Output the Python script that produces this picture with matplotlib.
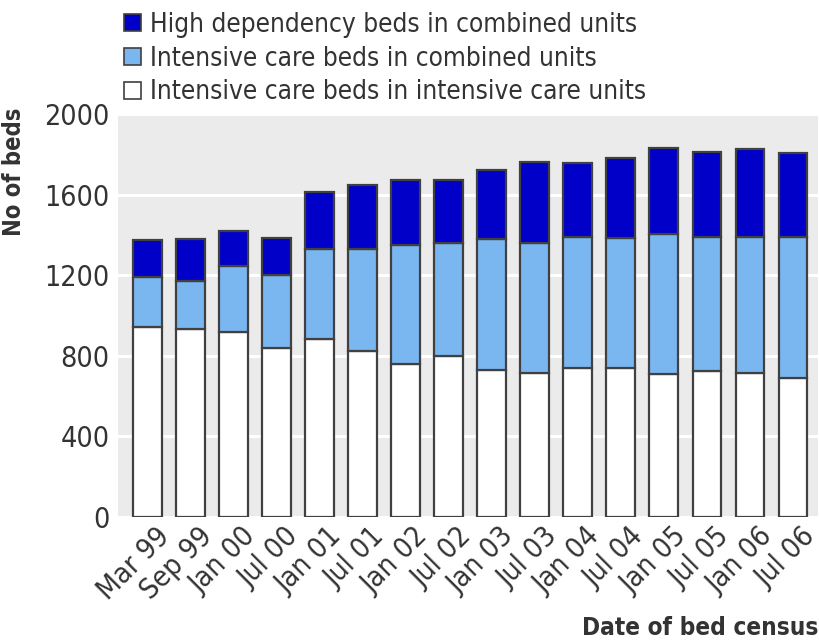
import matplotlib
matplotlib.use("Agg")
import matplotlib.pyplot as plt
import matplotlib.transforms as mtrans
from matplotlib.patches import Patch
import numpy as np

labels = ["Mar 99", "Sep 99", "Jan 00", "Jul 00", "Jan 01", "Jul 01", "Jan 02", "Jul 02",
          "Jan 03", "Jul 03", "Jan 04", "Jul 04", "Jan 05", "Jul 05", "Jan 06", "Jul 06"]
icu_units = [942, 932, 919, 840, 883, 823, 760, 797, 732, 714, 737, 737, 710, 727, 717, 692]
ic_combined = [250, 240, 325, 362, 448, 505, 590, 561, 647, 646, 652, 647, 694, 664, 672, 699]
hd_combined = [183, 207, 174, 182, 280, 321, 324, 316, 343, 402, 366, 396, 429, 421, 436, 416]

plt.rcParams['font.family'] = ['DejaVu Sans']
plt.rcParams['font.stretch'] = 'condensed'
txt = '#333333'

fig = plt.figure(figsize=(8.2, 6.44), dpi=100)
ax = fig.add_axes([118/820, (644-517)/644, 700/820, 403/644])
ax.set_facecolor('#ebebeb')

x = np.arange(len(labels))
w = 0.67
ec = '#404040'
lw = 1.6
ax.bar(x, icu_units, w, color='white', edgecolor=ec, linewidth=lw, zorder=3)
ax.bar(x, ic_combined, w, bottom=icu_units, color='#7ab6f0', edgecolor=ec, linewidth=lw, zorder=3)
bottom2 = np.array(icu_units) + np.array(ic_combined)
ax.bar(x, hd_combined, w, bottom=bottom2, color='#0000c8', edgecolor=ec, linewidth=lw, zorder=3)

ax.set_ylim(0, 2000)
ax.set_xlim(-0.68, 15.58)
ax.set_yticks([0, 400, 800, 1200, 1600, 2000])
ax.yaxis.grid(True, color='white', linewidth=2.2, zorder=0)
ax.set_axisbelow(True)
for s in ax.spines.values():
    s.set_visible(False)
ax.tick_params(axis='y', length=0, colors=txt, labelsize=20.5, pad=6)
ax.tick_params(axis='x', length=0, colors=txt, labelsize=20.5, pad=4)
ax.set_xticks(x)
ax.set_xticklabels(labels, rotation=45, ha='right', va='top', rotation_mode='anchor')
off = mtrans.ScaledTranslation(8/100, 0, fig.dpi_scale_trans)
for t in ax.get_xticklabels():
    t.set_color(txt)
    t.set_transform(t.get_transform() + off)

fig.text(14/820, 1 - 172/644, 'No of beds', rotation=90, ha='center', va='center',
         fontsize=17, fontweight='heavy', color=txt)
fig.text(818/820, 1 - 628/644, 'Date of bed census', ha='right', va='center',
         fontsize=17.5, fontweight='heavy', color=txt)

handles = [Patch(facecolor='#0000c8', edgecolor=ec, linewidth=1.2),
           Patch(facecolor='#7ab6f0', edgecolor=ec, linewidth=1.2),
           Patch(facecolor='white', edgecolor=ec, linewidth=1.2)]
names = ['High dependency beds in combined units',
         'Intensive care beds in combined units',
         'Intensive care beds in intensive care units']
leg = fig.legend(handles, names, loc='upper left', bbox_to_anchor=(112/820, 1.0),
                 frameon=False, fontsize=18.8, handlelength=0.65, handleheight=0.65,
                 handletextpad=0.35, labelspacing=0.3, borderaxespad=0.05)
for t in leg.get_texts():
    t.set_color(txt)

fig.savefig('out.png', dpi=100)
